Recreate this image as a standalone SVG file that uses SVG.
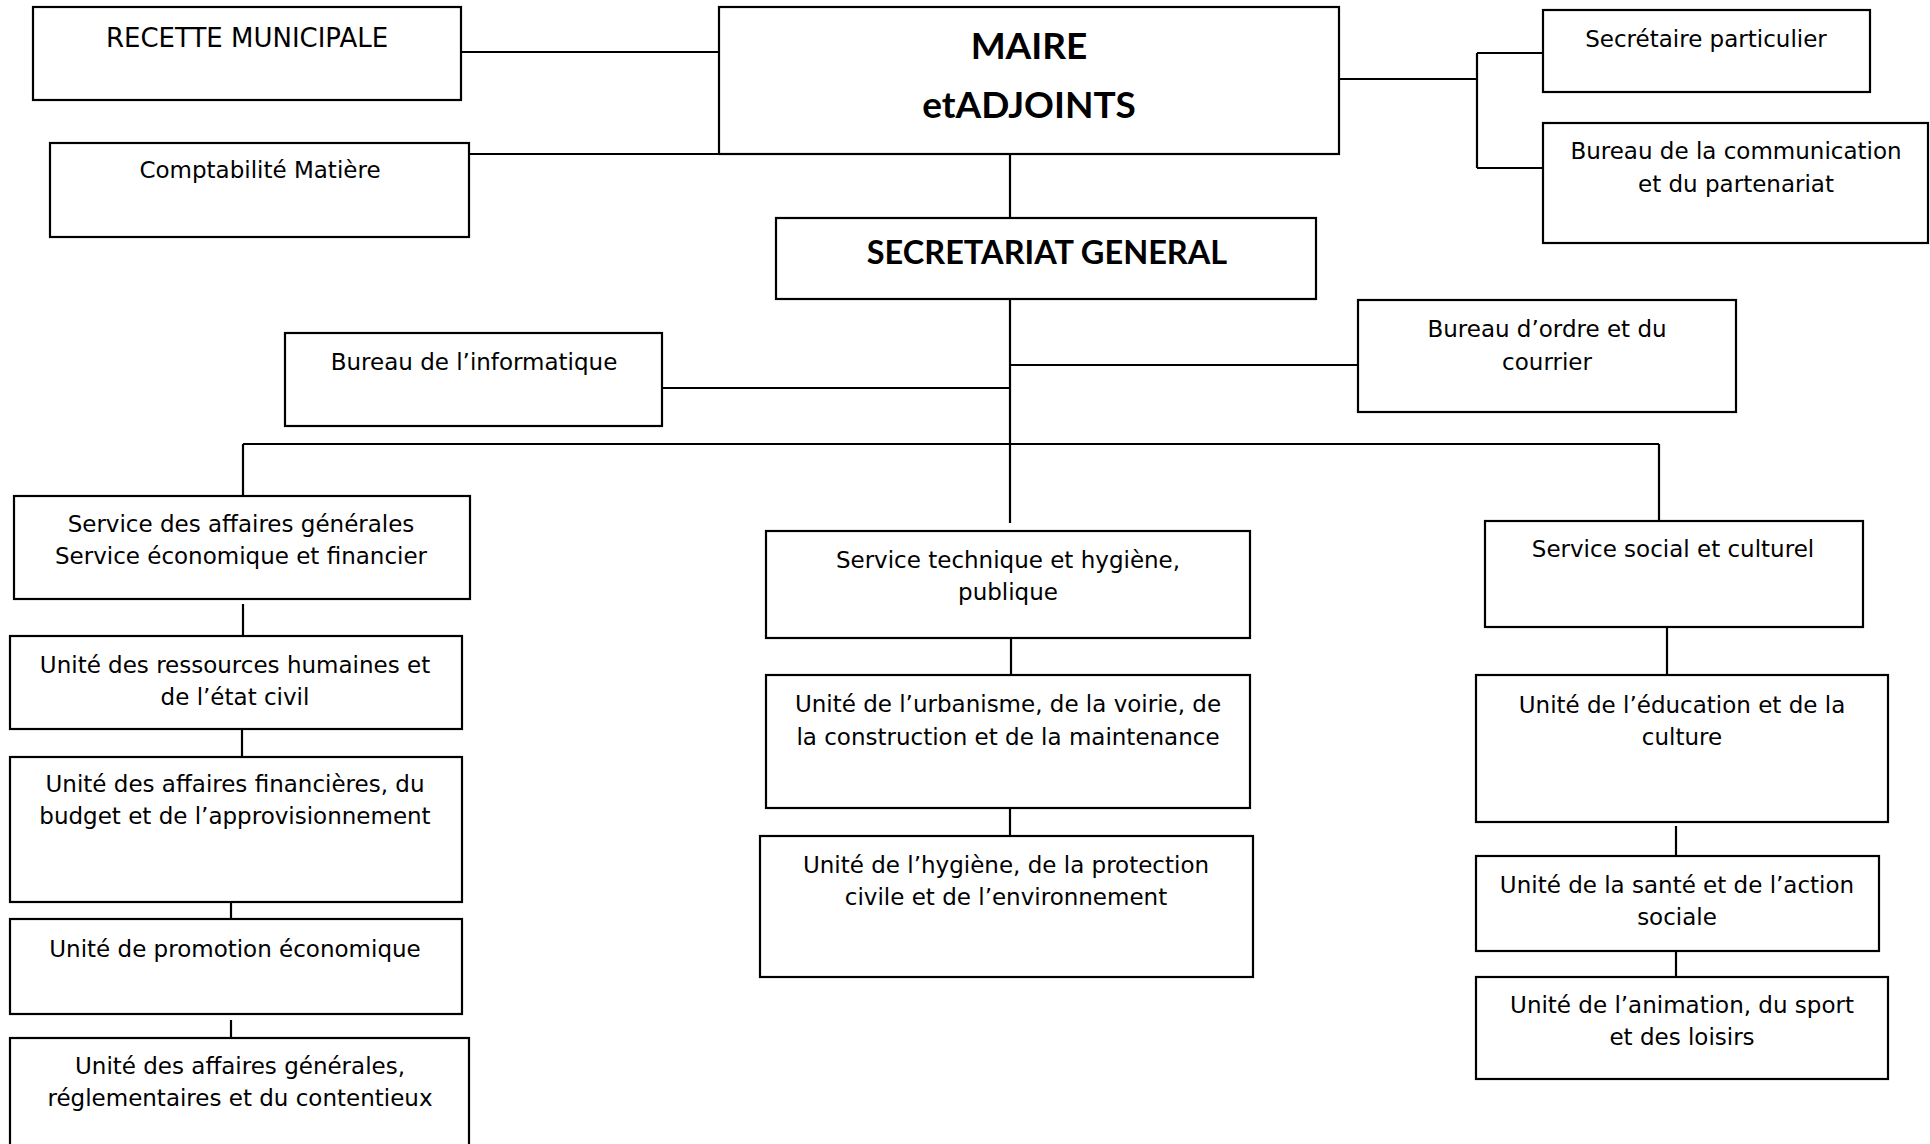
<svg xmlns="http://www.w3.org/2000/svg" width="1930" height="1144" viewBox="0 0 1930 1144">
<style>
rect{fill:#fff;stroke:#000;stroke-width:2.2}
.c path{fill:none;stroke:#000;stroke-width:2.2}
text{font-family:"DejaVu Sans",sans-serif;font-size:23px;text-anchor:middle;fill:#000}
text.b{font-family:Lato,"Liberation Sans",sans-serif;font-weight:bold}
</style>
<rect x="0" y="0" width="1930" height="1144" style="stroke:none"/>
<g class="c" id="connectors">
<path d="M461 52H719"/>
<path d="M469 154H719"/>
<path d="M1339 79H1477M1477 53V168M1477 53H1543M1477 168H1547"/>
<path d="M1010 154V218"/>
<path d="M1010 299V523"/>
<path d="M662 388H1010"/>
<path d="M1010 365H1358"/>
<path d="M243 444H1659M243 444V496M1659 444V524"/>
<path d="M243 604V636"/>
<path d="M242 729V757"/>
<path d="M231 894V919"/>
<path d="M231 1020V1046"/>
<path d="M1011 638V675"/>
<path d="M1010 808V836"/>
<path d="M1667 627V675"/>
<path d="M1676 826V856"/>
<path d="M1676 951V977"/>
</g>
<g id="recette"><rect x="33" y="7" width="428" height="93"/><text x="247" y="47" style="font-size:26px">RECETTE MUNICIPALE</text></g>
<g id="compta"><rect x="50" y="143" width="419" height="94"/><text x="260" y="178">Comptabilité Matière</text></g>
<g id="maire"><rect x="719" y="7" width="620" height="147"/><text class="b" x="1029" y="59" style="font-size:37px">MAIRE</text><text class="b" x="1029" y="118" style="font-size:37px">etADJOINTS</text></g>
<g id="secp"><rect x="1543" y="10" width="327" height="82"/><text x="1706" y="47">Secrétaire particulier</text></g>
<g id="bcomm"><rect x="1543" y="123" width="385" height="120"/><text x="1736" y="159">Bureau de la communication</text><text x="1736" y="192">et du partenariat</text></g>
<g id="sg"><rect x="776" y="218" width="540" height="81"/><text class="b" x="1047" y="264" style="font-size:32.5px">SECRETARIAT GENERAL</text></g>
<g id="binfo"><rect x="285" y="333" width="377" height="93"/><text x="474" y="370">Bureau de l’informatique</text></g>
<g id="bordre"><rect x="1358" y="300" width="378" height="112"/><text x="1547" y="337">Bureau d’ordre et du</text><text x="1547" y="370">courrier</text></g>
<g id="sag"><rect x="14" y="496" width="456" height="103"/><text x="241" y="532">Service des affaires générales</text><text x="241" y="564">Service économique et financier</text></g>
<g id="sth"><rect x="766" y="531" width="484" height="107"/><text x="1008" y="568">Service technique et hygiène,</text><text x="1008" y="600">publique</text></g>
<g id="ssc"><rect x="1485" y="521" width="378" height="106"/><text x="1673" y="557">Service social et culturel</text></g>
<g id="rh"><rect x="10" y="636" width="452" height="93"/><text x="235" y="673">Unité des ressources humaines et</text><text x="235" y="705">de l’état civil</text></g>
<g id="af"><rect x="10" y="757" width="452" height="145"/><text x="235" y="792">Unité des affaires financières, du</text><text x="235" y="824">budget et de l’approvisionnement</text></g>
<g id="promo"><rect x="10" y="919" width="452" height="95"/><text x="235" y="957">Unité de promotion économique</text></g>
<g id="agr"><rect x="10" y="1038" width="459" height="140"/><text x="240" y="1074">Unité des affaires générales,</text><text x="240" y="1106">réglementaires et du contentieux</text></g>
<g id="urb"><rect x="766" y="675" width="484" height="133"/><text x="1008" y="712">Unité de l’urbanisme, de la voirie, de</text><text x="1008" y="745">la construction et de la maintenance</text></g>
<g id="hyg"><rect x="760" y="836" width="493" height="141"/><text x="1006" y="873">Unité de l’hygiène, de la protection</text><text x="1006" y="905">civile et de l’environnement</text></g>
<g id="edu"><rect x="1476" y="675" width="412" height="147"/><text x="1682" y="713">Unité de l’éducation et de la</text><text x="1682" y="745">culture</text></g>
<g id="sante"><rect x="1476" y="856" width="403" height="95"/><text x="1677" y="893">Unité de la santé et de l’action</text><text x="1677" y="925">sociale</text></g>
<g id="anim"><rect x="1476" y="977" width="412" height="102"/><text x="1682" y="1013">Unité de l’animation, du sport</text><text x="1682" y="1045">et des loisirs</text></g>
</svg>
